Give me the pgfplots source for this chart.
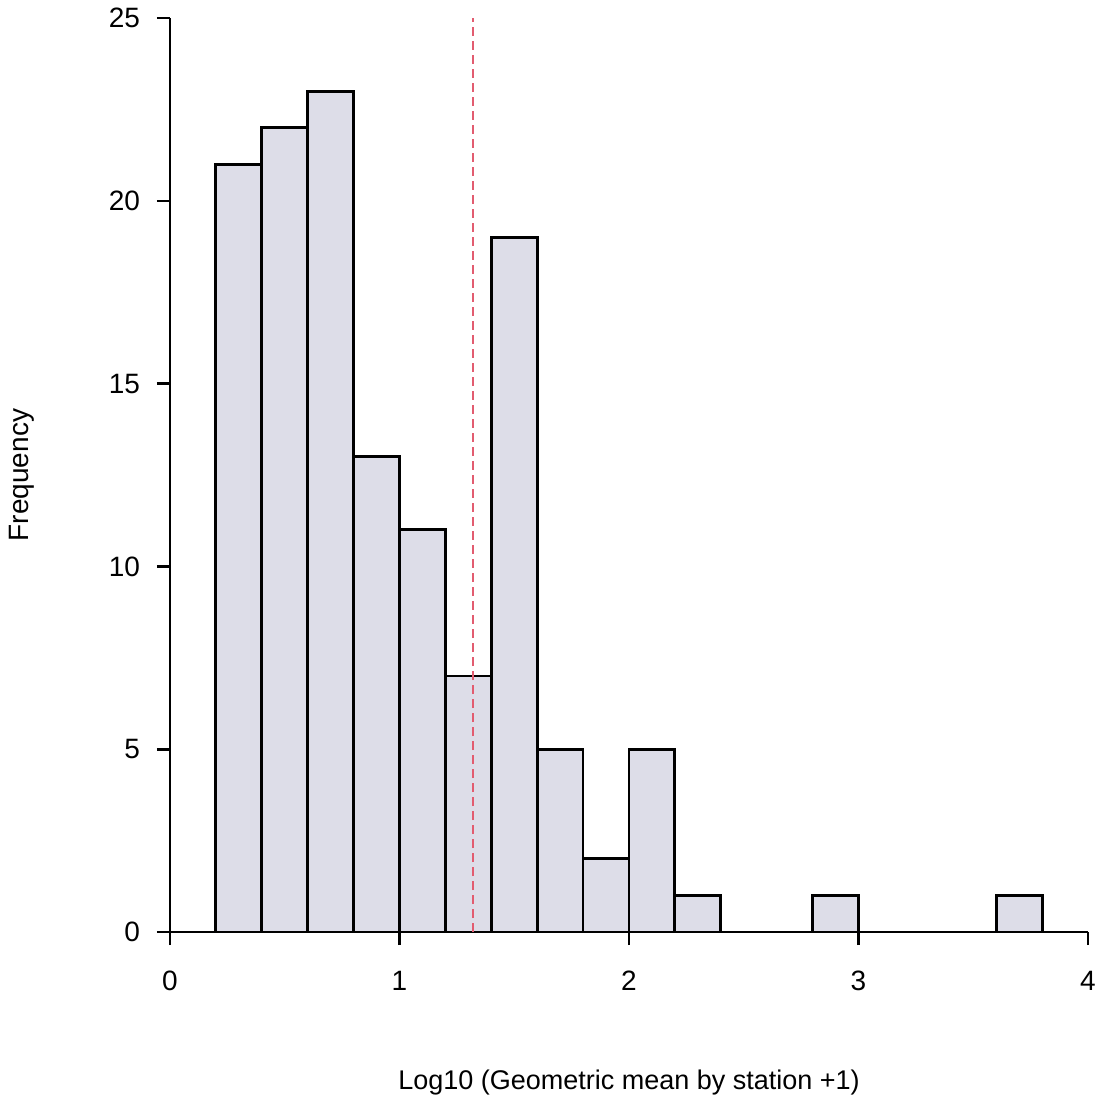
\documentclass[border=0pt]{standalone}
\usepackage{pgfplots}
\pgfplotsset{compat=1.18}
\usepackage{fontspec}
\setmainfont{Liberation Sans}
\definecolor{barfill}{RGB}{221,221,232}
\definecolor{meanline}{RGB}{226,92,112}
\begin{document}
\begin{tikzpicture}
\useasboundingbox (-85pt,-88.5pt) rectangle (462pt,466pt);
\begin{axis}[
  scale only axis,
  width=459pt, height=457pt,
  xmin=0, xmax=4, ymin=0, ymax=25,
  axis x line=bottom, axis y line=left,
  axis line style={-, line width=1.3pt},
  xtick={0,1,2,3,4}, ytick={0,5,10,15,20,25},
  tick align=outside, major tick length=6.5pt,
  tick style={line width=1.3pt, black},
  ticklabel style={font=\fontsize{14}{16}\selectfont},
  /pgf/number format/assume math mode=true,
  xticklabel style={yshift=-9.5pt},
  yticklabel style={xshift=-5pt},
  xlabel={Log10 (Geometric mean by station +1)},
  ylabel={Frequency},
  xlabel style={font=\fontsize{13.5}{16}\selectfont, at={(axis description cs:0.5,0)}, anchor=center, yshift=-75.5pt},
  ylabel style={font=\fontsize{14}{16}\selectfont, at={(axis description cs:0,0.5)}, anchor=center, rotate=0, yshift=74pt},
  clip=false,
]
% histogram of station values, bins of width 0.2
\addplot[ybar interval, fill=barfill, draw=black, line width=1.4pt] coordinates {
  (0.2,21) (0.4,22) (0.6,23) (0.8,13) (1.0,11) (1.2,7) (1.4,19) (1.6,5)
  (1.8,2) (2.0,5) (2.2,1) (2.4,0) (2.6,0) (2.8,1) (3.0,0) (3.2,0)
  (3.4,0) (3.6,1) (3.8,0)
};
% overall mean
\addplot[meanline, line width=1.2pt, dash pattern=on 4.5pt off 2.5pt] coordinates {(1.32,0) (1.32,25)};
\end{axis}
\end{tikzpicture}
\end{document}
